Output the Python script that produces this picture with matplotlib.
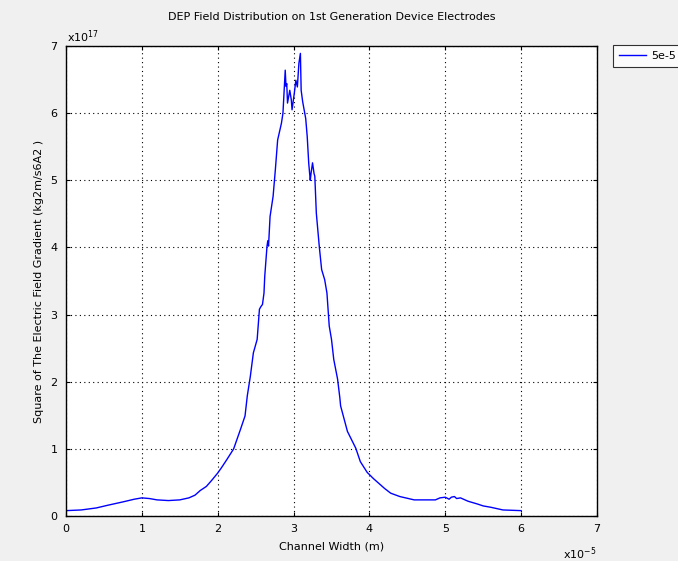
import matplotlib
matplotlib.use("Agg")
import matplotlib.pyplot as plt

# Channel width in units of 1e-5 m, squared field gradient in units of 1e17
width_e5 = [0.00, 0.20, 0.40, 0.55, 0.75, 0.90, 1.00, 1.10, 1.20, 1.35, 1.50, 1.62,
            1.70, 1.77, 1.85, 1.92, 2.00, 2.05, 2.12, 2.21, 2.30, 2.36, 2.39, 2.43,
            2.47, 2.52, 2.55, 2.57, 2.59, 2.61, 2.62, 2.65, 2.66, 2.67, 2.69, 2.73,
            2.76, 2.79, 2.84, 2.86, 2.89, 2.90, 2.91, 2.92, 2.95, 2.97, 2.98, 3.01,
            3.03, 3.05, 3.07, 3.09, 3.10, 3.12, 3.16, 3.18, 3.20, 3.22, 3.23, 3.25,
            3.27, 3.28, 3.30, 3.34, 3.37, 3.41, 3.44, 3.47, 3.50, 3.53, 3.58, 3.61,
            3.62, 3.71, 3.82, 3.88, 3.97, 4.05, 4.13, 4.20, 4.28, 4.40, 4.59, 4.87,
            4.93, 5.00, 5.05, 5.08, 5.12, 5.15, 5.20, 5.30, 5.42, 5.50, 5.60, 5.76,
            6.00]
grad2_e17 = [0.08, 0.09, 0.12, 0.16, 0.21, 0.25, 0.27, 0.26, 0.24, 0.23, 0.24, 0.27,
             0.31, 0.38, 0.44, 0.53, 0.64, 0.72, 0.84, 1.00, 1.29, 1.49, 1.79, 2.08,
             2.43, 2.63, 3.08, 3.12, 3.15, 3.32, 3.57, 4.02, 4.10, 4.02, 4.46, 4.76,
             5.16, 5.60, 5.85, 6.00, 6.64, 6.40, 6.44, 6.15, 6.34, 6.20, 6.05, 6.30,
             6.49, 6.39, 6.74, 6.89, 6.34, 6.17, 5.92, 5.65, 5.25, 5.00, 5.10, 5.26,
             5.10, 5.06, 4.51, 4.00, 3.67, 3.52, 3.32, 2.83, 2.63, 2.33, 2.04, 1.76,
             1.64, 1.26, 1.01, 0.81, 0.65, 0.56, 0.48, 0.41, 0.34, 0.29, 0.24, 0.24,
             0.27, 0.28, 0.25, 0.28, 0.29, 0.26, 0.27, 0.22, 0.18, 0.15, 0.13, 0.09,
             0.08]

x_ticks = [0, 1, 2, 3, 4, 5, 6, 7]
y_ticks = [0, 1, 2, 3, 4, 5, 6, 7]
series_label = "5e-5"

plt.rcParams['font.family'] = ['DejaVu Sans']
fs = 8
bg = "#f0f0f0"

fig = plt.figure(figsize=(6.78, 5.61), dpi=100, facecolor=bg)
ax = fig.add_axes([66 / 678, 45 / 561, 531 / 678, 470 / 561])
ax.set_facecolor("white")

ax.plot(width_e5, grad2_e17, color=(0, 0, 1), lw=1.0, label=series_label)

ax.set_xlim(0, 7)
ax.set_ylim(0, 7)
ax.set_xticks(x_ticks)
ax.set_yticks(y_ticks)
ax.set_xticklabels([str(t) for t in x_ticks], fontsize=fs)
ax.set_yticklabels([str(t) for t in y_ticks], fontsize=fs)
ax.tick_params(direction="in", length=3, width=0.8, top=True, right=True,
               pad=6, colors="black")
ax.grid(True, linestyle=(0, (1, 3)), color="black", lw=0.8)
for s in ax.spines.values():
    s.set_color("black")
    s.set_linewidth(1.0)

ax.set_title("DEP Field Distribution on 1st Generation Device Electrodes",
             fontsize=fs, pad=18.5)
ax.set_xlabel("Channel Width (m)", fontsize=fs, labelpad=5)
ax.set_ylabel("Square of The Electric Field Gradient (kg2m/s6A2 )",
              fontsize=fs, labelpad=5)

# exponent multipliers
ax.text(0.002, 1.003, r"x10$^{17}$", transform=ax.transAxes, fontsize=fs,
        ha="left", va="bottom")
ax.text(1.0, -0.062, r"x10$^{-5}$", transform=ax.transAxes, fontsize=fs,
        ha="right", va="top")

leg = fig.legend(loc="upper left", bbox_to_anchor=(613 / 678, 1 - 45 / 561),
                 fontsize=fs, frameon=True, fancybox=False, handlelength=2.4,
                 borderpad=0.55, handletextpad=0.5, borderaxespad=0)
leg.get_frame().set_edgecolor("black")
leg.get_frame().set_linewidth(0.8)

fig.savefig("out.png", dpi=100, facecolor=bg)
